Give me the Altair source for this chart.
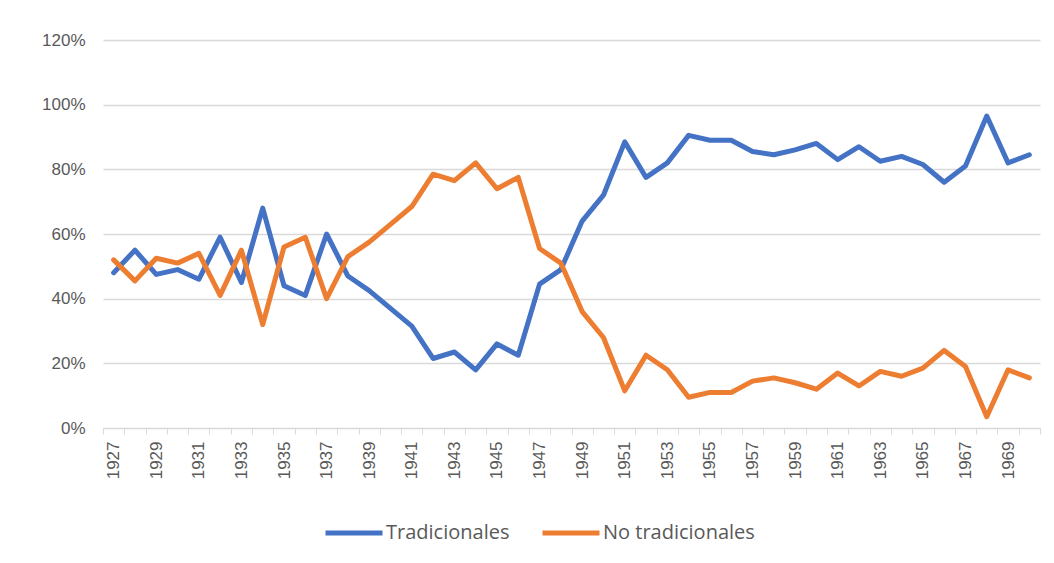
import altair as alt
import pandas as pd

years = list(range(1927, 1971))
tradicionales = [48, 55, 47.5, 49, 46, 59, 45, 68, 44, 41, 60, 47, 42.5, 37, 31.5,
                 21.5, 23.5, 18, 26, 22.5, 44.5, 49, 64, 72, 88.5, 77.5, 82, 90.5,
                 89, 89, 85.5, 84.5, 86, 88, 83, 87, 82.5, 84, 81.5, 76, 81, 96.5,
                 82, 84.5]
no_tradicionales = [52, 45.5, 52.5, 51, 54, 41, 55, 32, 56, 59, 40, 53, 57.5, 63,
                    68.5, 78.5, 76.5, 82, 74, 77.5, 55.5, 51, 36, 28, 11.5, 22.5,
                    18, 9.5, 11, 11, 14.5, 15.5, 14, 12, 17, 13, 17.5, 16, 18.5, 24,
                    19, 3.5, 18, 15.5]
series_names = ["Tradicionales", "No tradicionales"]
series_colors = ["#4472C4", "#ED7D31"]
y_ticks = [0, 0.2, 0.4, 0.6, 0.8, 1.0, 1.2]

rows = []
for name, vals in zip(series_names, [tradicionales, no_tradicionales]):
    for yr, v in zip(years, vals):
        rows.append({"year": yr, "value": v / 100.0, "serie": name})
df = pd.DataFrame(rows)

chart = alt.Chart(df).mark_line(strokeWidth=5, strokeJoin="round", strokeCap="round").encode(
    x=alt.X("year:O", sort=years,
            scale=alt.Scale(type="band", paddingInner=0, paddingOuter=0),
            axis=alt.Axis(title=None, labelAngle=270, tickBand="extent",
                          labelExpr="(datum.value - 1927) % 2 == 0 ? datum.label : ''",
                          domainColor="#d9d9d9", tickColor="#d9d9d9", tickSize=6,
                          labelPadding=7, labelFontSize=17, labelColor="#595959",
                          labelFont="Liberation Sans", grid=False)),
    y=alt.Y("value:Q", scale=alt.Scale(domain=[0, 1.2], nice=False),
            axis=alt.Axis(title=None, values=y_ticks, format=".0%", domain=False,
                          ticks=False, gridColor="#d9d9d9", gridWidth=1.3,
                          labelPadding=18, labelFontSize=17, labelColor="#595959",
                          labelFont="Liberation Sans")),
    color=alt.Color("serie:N", sort=series_names,
                    scale=alt.Scale(domain=series_names, range=series_colors),
                    legend=alt.Legend(title=None, orient="none", direction="horizontal",
                                      legendX=220, legendY=462,
                                      symbolType="stroke", symbolSize=3249,
                                      symbolStrokeWidth=5, labelOffset=1,
                                      columnPadding=22, labelFontSize=20,
                                      labelFont="Open Sans", labelColor="#595959")),
    order=alt.Order("year:O"),
).properties(
    width=937, height=388,
    autosize=alt.AutoSizeParams(type="none"),
    padding={"left": 95, "top": 32, "right": 5, "bottom": 130},
).configure_view(stroke=None)

chart.save("out.html", embed_options={"renderer": "svg", "actions": False})
